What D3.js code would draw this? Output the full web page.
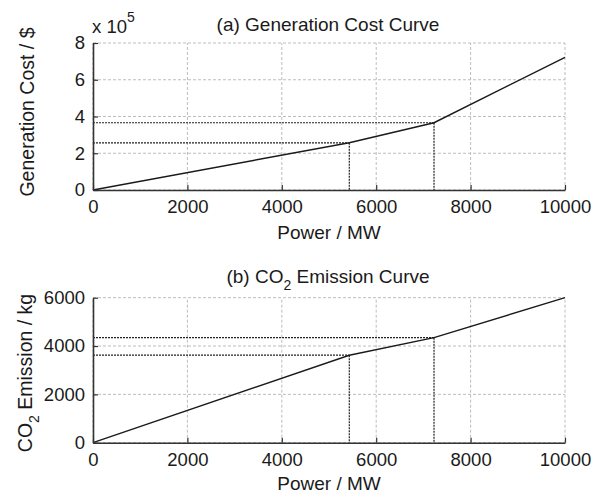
<!DOCTYPE html>
<html>
<head>
<meta charset="utf-8">
<script src="https://cdn.jsdelivr.net/npm/d3@7"></script>
<style>
  html, body { margin: 0; padding: 0; background: #fff; }
  svg { display: block; font-family: "Liberation Sans", Arial, sans-serif; }
</style>
</head>
<body>
<svg id="chart" width="606" height="496"></svg>
<script>
// ---- data ----
const power = [0, 5430, 7225, 10000];               // MW
const costValues = [0, 2.57e5, 3.66e5, 7.22e5];     // $
const emissionValues = [0, 3620, 4345, 6000];       // kg
const breakIdx = [1, 2];                             // breakpoints with reference lines
const xTicks = [0, 2000, 4000, 6000, 8000, 10000];
const costTicks = [0, 2e5, 4e5, 6e5, 8e5];
const emissionTicks = [0, 2000, 4000, 6000];

const svg = d3.select("#chart");
const ink = "#1a1a1a";

function panel(opts) {
  const x = d3.scaleLinear().domain([0, 10000]).range([93, 565]);
  const y = d3.scaleLinear().domain(opts.yDomain).range(opts.yRange);
  const g = svg.append("g");

  // grid
  g.append("g").selectAll("line.gx").data(xTicks).join("line")
    .attr("x1", d => x(d)).attr("x2", d => x(d))
    .attr("y1", y.range()[0]).attr("y2", y.range()[1])
    .attr("stroke", "#bdbdbd").attr("stroke-width", 1).attr("stroke-dasharray", "3,2");
  g.append("g").selectAll("line.gy").data(opts.yTicks).join("line")
    .attr("x1", x.range()[0]).attr("x2", x.range()[1])
    .attr("y1", d => y(d)).attr("y2", d => y(d))
    .attr("stroke", "#bdbdbd").attr("stroke-width", 1).attr("stroke-dasharray", "3,2");

  // reference dotted lines
  breakIdx.forEach(i => {
    const px = power[i], py = opts.values[i];
    g.append("line").attr("x1", x(0)).attr("x2", x(px))
      .attr("y1", y(py)).attr("y2", y(py))
      .attr("stroke", "#222").attr("stroke-width", 1.2).attr("stroke-dasharray", "2,1");
    g.append("line").attr("x1", x(px)).attr("x2", x(px))
      .attr("y1", y(py)).attr("y2", y(0))
      .attr("stroke", "#222").attr("stroke-width", 1.2).attr("stroke-dasharray", "2,1");
  });

  // curve
  const pts = power.map((p, i) => [p, opts.values[i]]);
  g.append("path").datum(pts)
    .attr("fill", "none").attr("stroke", ink).attr("stroke-width", 1.4)
    .attr("d", d3.line().x(d => x(d[0])).y(d => y(d[1])));

  // axes
  const xAxis = d3.axisBottom(x).tickValues(xTicks).tickSizeInner(-5).tickSizeOuter(0)
    .tickPadding(10).tickFormat(d3.format("d"));
  const gx = g.append("g").attr("transform", `translate(0,${y(0)})`).call(xAxis);
  const yAxis = d3.axisLeft(y).tickValues(opts.yTicks).tickSizeInner(-5).tickSizeOuter(0)
    .tickPadding(8).tickFormat(opts.yFormat);
  const gy = g.append("g").attr("transform", `translate(${x(0)},0)`).call(yAxis);
  [gx, gy].forEach(a => {
    a.select(".domain").attr("stroke", "#333").attr("stroke-width", 1.6);
    a.selectAll(".tick line").attr("stroke", "#333").attr("stroke-width", 1.2);
    a.selectAll(".tick text").attr("fill", ink).style("font-size", "18.5px")
      .style("font-family", "Liberation Sans, Arial, sans-serif");
  });

  // x label
  g.append("text").attr("x", 329).attr("y", opts.xLabelY).attr("text-anchor", "middle")
    .attr("fill", ink).style("font-size", "19px").text("Power / MW");
  return { x, y, g };
}

// ---- panel (a) ----
const pa = panel({
  yDomain: [0, 8e5], yRange: [190, 43], yTicks: costTicks, values: costValues,
  yFormat: d => d3.format("d")(d / 1e5), xLabelY: 239
});
pa.g.append("text").attr("x", 328).attr("y", 31).attr("text-anchor", "middle")
  .attr("fill", ink).style("font-size", "19px").text("(a) Generation Cost Curve");
const mult = pa.g.append("text").attr("x", 92).attr("y", 33).attr("fill", ink).style("font-size", "18.5px");
mult.append("tspan").text("x 10");
mult.append("tspan").attr("dy", -11).style("font-size", "14px").text("5");
pa.g.append("text").attr("transform", "translate(34,112) rotate(-90)").attr("text-anchor", "middle")
  .attr("fill", ink).style("font-size", "19.5px").text("Generation Cost / $");

// ---- panel (b) ----
const pb = panel({
  yDomain: [0, 6000], yRange: [442.7, 297.7], yTicks: emissionTicks, values: emissionValues,
  yFormat: d3.format("d"), xLabelY: 490
});
const tb = pb.g.append("text").attr("x", 328).attr("y", 283).attr("text-anchor", "middle")
  .attr("fill", ink).style("font-size", "19px");
tb.append("tspan").text("(b) CO");
tb.append("tspan").attr("dy", 7).style("font-size", "14px").text("2");
tb.append("tspan").attr("dy", -7).text(" Emission Curve");
const yl = pb.g.append("text").attr("transform", "translate(32,373) rotate(-90)").attr("text-anchor", "middle")
  .attr("fill", ink).style("font-size", "19.5px");
yl.append("tspan").text("CO");
yl.append("tspan").attr("dy", 7).style("font-size", "14px").text("2");
yl.append("tspan").attr("dy", -7).text(" Emission / kg");
</script>
</body>
</html>
